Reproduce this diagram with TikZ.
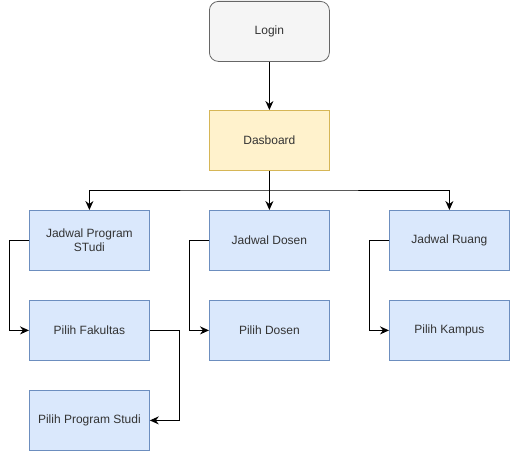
\documentclass[tikz,border=0pt]{standalone}
\usepackage{fontspec}
\setmainfont{Liberation Sans}
\usetikzlibrary{arrows.meta}
\definecolor{grayfill}{HTML}{F5F5F5}
\definecolor{graydraw}{HTML}{666666}
\definecolor{graytext}{HTML}{333333}
\definecolor{yelfill}{HTML}{FFF2CC}
\definecolor{yeldraw}{HTML}{D6B656}
\definecolor{bluefill}{HTML}{DAE8FC}
\definecolor{bluedraw}{HTML}{6C8EBF}
\tikzset{
  x=1pt, y=-1pt,
  box/.style={draw, line width=0.8pt, minimum width=120pt, minimum height=60pt, inner sep=0pt, anchor=north west, align=center, font=\fontsize{12}{14}\selectfont, text=graytext},
  loginbox/.style={box, fill=grayfill, draw=graydraw, rounded corners=9pt},
  dashbox/.style={box, fill=yelfill, draw=yeldraw},
  bluebox/.style={box, fill=bluefill, draw=bluedraw},
  conn/.style={line width=1pt, -{Stealth[length=9pt,width=8pt,inset=3pt]}},
}
\begin{document}
\begin{tikzpicture}
\useasboundingbox (0,0) rectangle (510,452);
\node[loginbox] (login) at (209,1) {Login};
\node[dashbox] (dash) at (209,110) {Dasboard};
\node[bluebox] (jps) at (29,210) {Jadwal Program\\STudi};
\node[bluebox] (jd) at (209,210) {Jadwal Dosen};
\node[bluebox] (jr) at (389,210) {Jadwal Ruang};
\node[bluebox] (pf) at (29,300) {Pilih Fakultas};
\node[bluebox] (pd) at (209,300) {Pilih Dosen};
\node[bluebox] (pk) at (389,300) {Pilih Kampus};
\node[bluebox] (pps) at (29,390) {Pilih Program Studi};
\coordinate (bus) at (269,190);
\draw[conn] (login.south) -- (dash.north);
\draw[conn] (dash.south) -- (jd.north);
\draw[conn] (dash.south) |- (bus) -| (jps.north);
\draw[conn] (dash.south) |- (bus) -| (jr.north);
\draw[conn] (jps.west) -- ++(-20,0) |- (pf.west);
\draw[conn] (jd.west) -- ++(-20,0) |- (pd.west);
\draw[conn] (jr.west) -- ++(-20,0) |- (pk.west);
\draw[conn] (pf.east) -- ++(30,0) |- (pps.east);
\end{tikzpicture}
\end{document}
